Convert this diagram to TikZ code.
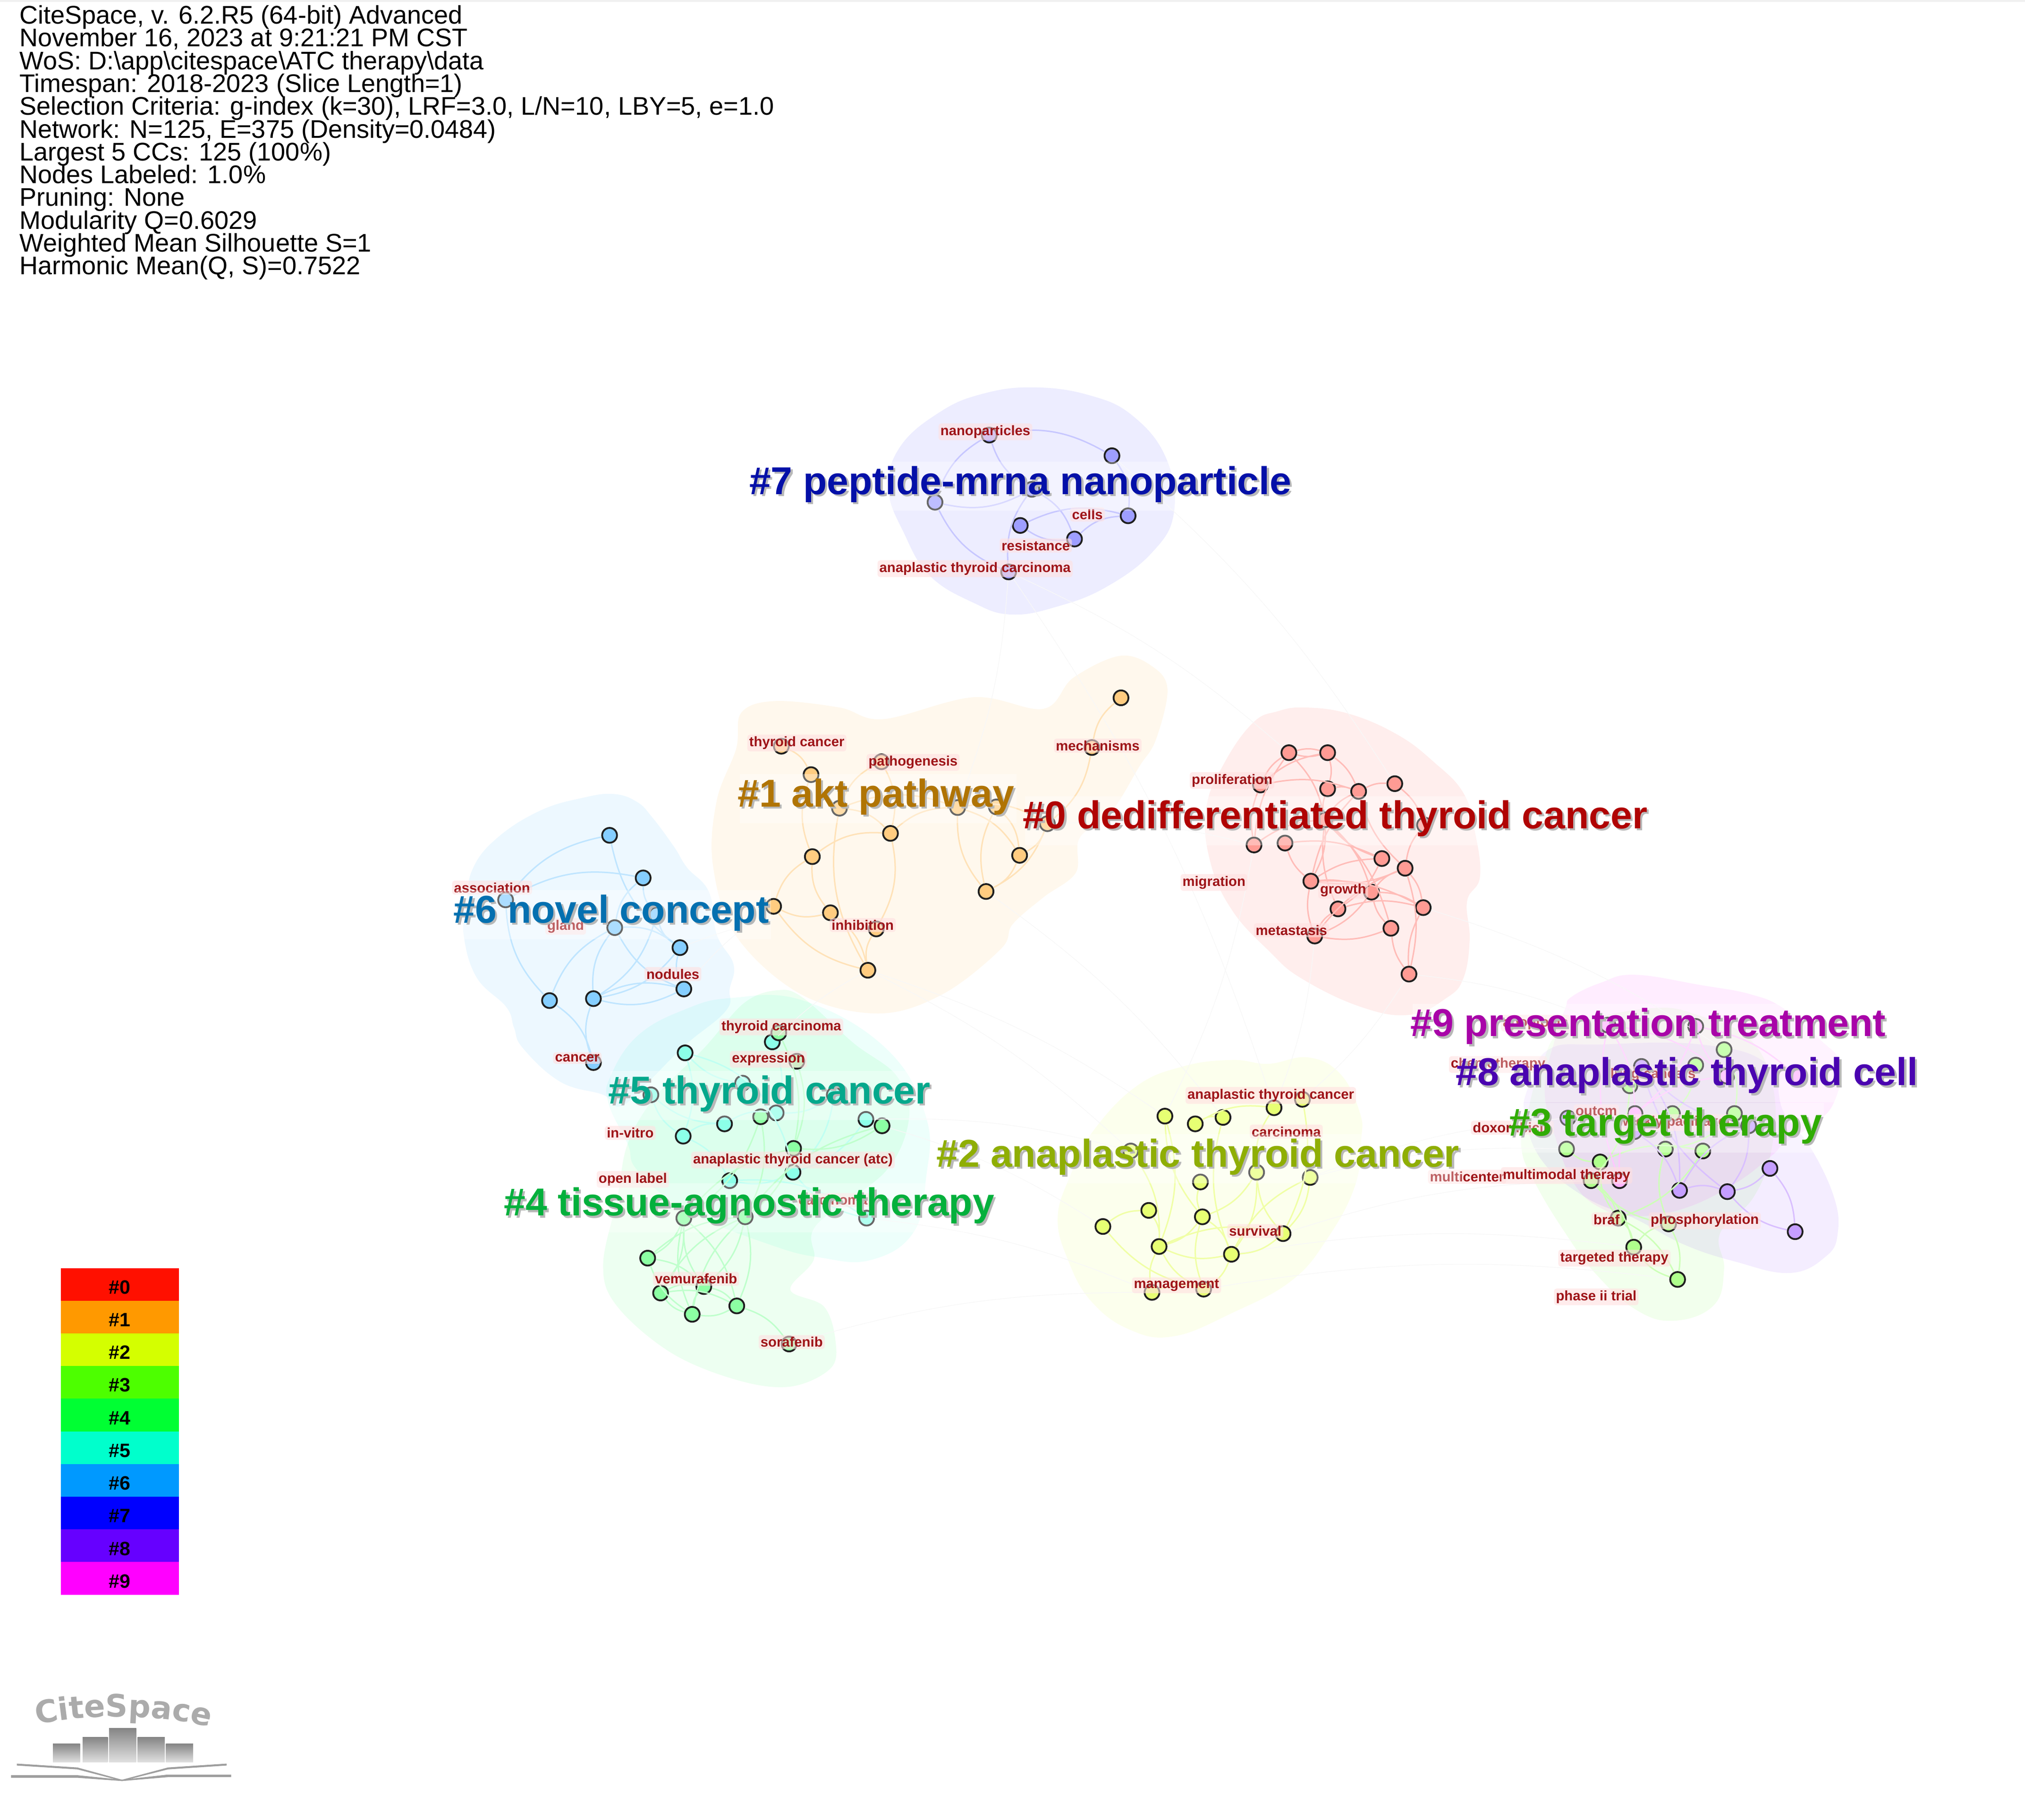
\documentclass[tikz,border=0pt]{standalone}
\usepackage{fontspec}
\setmainfont{Liberation Sans}
\newfontfamily\logofont{DejaVu Sans}
\usetikzlibrary{decorations.text}
\definecolor{c0}{HTML}{FF1000}
\definecolor{c1}{HTML}{FF9900}
\definecolor{c2}{HTML}{D4FF00}
\definecolor{c3}{HTML}{4DFF00}
\definecolor{c4}{HTML}{00FF33}
\definecolor{c5}{HTML}{00FFCC}
\definecolor{c6}{HTML}{0099FF}
\definecolor{c7}{HTML}{0000FF}
\definecolor{c8}{HTML}{6600FF}
\definecolor{c9}{HTML}{FF00FF}
\definecolor{kwred}{HTML}{9E1418}
\definecolor{t0}{HTML}{B00404}
\definecolor{t1}{HTML}{B07404}
\definecolor{t2}{HTML}{8FAE04}
\definecolor{t3}{HTML}{30AC04}
\definecolor{t4}{HTML}{04B03C}
\definecolor{t5}{HTML}{04A88C}
\definecolor{t6}{HTML}{0470B0}
\definecolor{t7}{HTML}{0410A8}
\definecolor{t8}{HTML}{4A04B0}
\definecolor{t9}{HTML}{A804A8}
\newcommand{\infofont}{\fontsize{19.75}{17.65}\selectfont\lineskiplimit=-20pt\relax}
\tikzset{
	hull/.style = {fill opacity = 0.07},
	dot/.style = {circle, draw = black!88, line width = 1.4pt, minimum size = 11.5pt, inner sep = 0pt},
	dot0/.style = {dot, fill = c0!42!white}, dot1/.style = {dot, fill = c1!50!white},
	dot2/.style = {dot, fill = c2!55!white}, dot3/.style = {dot, fill = c3!45!white},
	dot4/.style = {dot, fill = c4!45!white}, dot5/.style = {dot, fill = c5!45!white},
	dot6/.style = {dot, fill = c6!48!white}, dot7/.style = {dot, fill = c7!38!white},
	dot8/.style = {dot, fill = c8!38!white}, dot9/.style = {dot, fill = c9!30!white},
	faint/.style = {black!3, line width = 0.5pt},
	link0/.style = {c0!28!white, line width = 1.1pt}, link1/.style = {c1!28!white, line width = 1.1pt},
	link2/.style = {c2!35!white, line width = 1.1pt}, link3/.style = {c3!28!white, line width = 1.1pt},
	link4/.style = {c4!25!white, line width = 1.1pt}, link5/.style = {c5!25!white, line width = 1.1pt},
	link6/.style = {c6!25!white, line width = 1.1pt}, link7/.style = {c7!22!white, line width = 1.1pt},
	link8/.style = {c8!25!white, line width = 1.1pt}, link9/.style = {c9!22!white, line width = 1.1pt},
	keyword/.style = {font = \bfseries\fontsize{10.7}{12}\selectfont, text = kwred, fill = red!12!white, fill opacity = 0.6, text opacity = 1, inner sep = 1.5pt, rounded corners = 2pt},
	cluster/.style = {anchor = west, font = \bfseries\fontsize{30.1}{32}\selectfont, inner xsep = 0pt, inner ysep = 5pt},
	band/.style = {minimum width = 91.5pt, minimum height = 25.3pt, inner sep = 0pt, font = \bfseries\fontsize{15}{16}\selectfont, text = black, text height = 14.8pt, text depth = 0pt},
	tower/.style = {top color = black!48, bottom color = black!12, draw = none}
}
\newcommand{\clusterlabel}[4]{%
	\node [cluster, fill = white, fill opacity = 0.32, text = black!28, text opacity = 1] (#1s) at ([xshift = 1.6pt, yshift = -1.6pt] #2) {#4};
	\node [cluster] (#1) [text = #3] at (#2) {#4};
}
\begin{document}
\begin{tikzpicture}[x = 1pt, y = -1pt]
		\useasboundingbox (0, 0) rectangle (1568, 1409.7);
		\fill [black!6] (0, 0) rectangle (1568, 1.5);
		%%%%%%%%%%%%%
		\node [anchor = north west, align = left, inner sep = 0pt, font = \infofont] (info) at (15, 4) {CiteSpace, v. 6.2.R5 (64-bit) Advanced\\
			November 16, 2023 at 9:21:21 PM CST\\
			WoS: D:\textbackslash app\textbackslash citespace\textbackslash ATC therapy\textbackslash data\\
			Timespan: 2018-2023 (Slice Length=1)\\
			Selection Criteria: g-index (k=30), LRF=3.0, L/N=10, LBY=5, e=1.0\\
			Network: N=125, E=375 (Density=0.0484)\\
			Largest 5 CCs: 125 (100\%)\\
			Nodes Labeled: 1.0\%\\
			Pruning: None\\
			Modularity Q=0.6029\\
			Weighted Mean Silhouette S=1\\
			Harmonic Mean(Q, S)=0.7522};
		%%%%%%%%%%%%%
		\fill [hull, c7] plot [smooth cycle, tension = 0.7] coordinates {(800, 300) (843, 306) (877, 322) (903, 355) (909, 397) (892, 428) (856, 455) (818, 470) (783, 476) (754, 467) (720, 446) (700, 413) (688, 379) (697, 346) (728, 319) (761, 305)};
		\fill [hull, c1] plot [smooth cycle, tension = 0.6] coordinates {(867, 508) (892, 516) (904, 534) (895, 573) (882, 594) (861, 628) (836, 649) (833, 676) (808, 695) (784, 716) (775, 735) (730, 770) (680, 785) (620, 770) (570, 725) (552, 670) (555, 620) (570, 580) (574, 552) (600, 543) (650, 548) (684, 557) (754, 540) (808, 549) (831, 525)};
		\fill [hull, c0] plot [smooth cycle, tension = 0.7] coordinates {(1011, 548) (1045, 553) (1082, 569) (1110, 590) (1133, 614) (1142, 644) (1146, 679) (1136, 698) (1138, 728) (1133, 758) (1120, 773) (1092, 786) (1054, 780) (1008, 758) (983, 737) (954, 705) (937, 667) (934, 626) (948, 591) (970, 560) (989, 551)};
		\fill [hull, c6] plot [smooth cycle, tension = 0.7] coordinates {(475, 615) (493, 621) (505, 633) (522, 656) (532, 672) (549, 691) (555, 724) (568, 747) (565, 766) (562, 783) (530, 810) (500, 840) (480, 857) (467, 848) (434, 838) (405, 812) (398, 796) (392, 780) (369, 757) (359, 724) (361, 701) (366, 673) (385, 649) (418, 628) (451, 618)};
		\fill [hull, c5] plot [smooth cycle, tension = 0.7] coordinates {(566, 773) (622, 775) (686, 812) (717, 865) (717, 913) (707, 955) (674, 976) (635, 974) (596, 964) (532, 938) (494, 907) (486, 886) (471, 854) (473, 833) (494, 802) (530, 782)};
		\fill [hull, c4] plot [smooth cycle, tension = 0.6] coordinates {(602, 767) (622, 773) (661, 808) (694, 833) (704, 865) (686, 907) (632, 949) (630, 976) (612, 999) (638, 1012) (647, 1039) (643, 1060) (612, 1074) (571, 1069) (520, 1048) (478, 1012) (467, 980) (478, 928) (486, 886) (507, 850) (545, 812) (576, 777)};
		\fill [hull, c2] plot [smooth cycle, tension = 0.7] coordinates {(1013, 819) (1038, 832) (1053, 862) (1054, 883) (1049, 919) (1028, 959) (1000, 992) (954, 1017) (909, 1035) (875, 1030) (845, 1008) (827, 976) (819, 943) (829, 910) (845, 878) (879, 842) (916, 826) (954, 821) (982, 824)};
		\fill [hull, c3] plot [smooth cycle, tension = 0.7] coordinates {(1214, 796) (1278, 781) (1317, 787) (1355, 805) (1373, 843) (1372, 889) (1358, 927) (1332, 955) (1335, 983) (1327, 1011) (1296, 1023) (1266, 1014) (1235, 986) (1212, 955) (1189, 917) (1178, 889) (1183, 861) (1194, 824)};
		\fill [hull, c8] plot [smooth cycle, tension = 0.7] coordinates {(1199, 813) (1240, 809) (1317, 809) (1368, 824) (1381, 861) (1402, 889) (1420, 927) (1423, 955) (1414, 973) (1386, 986) (1343, 977) (1304, 964) (1266, 944) (1227, 927) (1194, 899) (1181, 865) (1183, 843)};
		\fill [hull, c9] plot [smooth cycle, tension = 0.7] coordinates {(1217, 772) (1240, 761) (1266, 755) (1317, 763) (1355, 770) (1381, 781) (1409, 805) (1425, 824) (1420, 854) (1404, 871) (1381, 886) (1372, 895) (1343, 917) (1304, 936) (1266, 942) (1240, 936) (1219, 917) (1204, 880) (1196, 843) (1204, 805) (1212, 781)};
		%%%%%%%%%%%%%
		\node [dot7] (u1) at (766, 337) {};
		\node [dot7] (u2) at (861, 353) {};
		\node [dot7] (u3) at (724, 389) {};
		\node [dot7] (u4) at (799, 379) {};
		\node [dot7] (u5) at (790, 407) {};
		\node [dot7] (u6) at (873.5, 399.5) {};
		\node [dot7] (u7) at (832, 417.5) {};
		\node [dot7] (u8) at (781, 443) {};
		%%%%%%%%%%%%%
		\node [dot1] (o1) at (868, 540.5) {};
		\node [dot1] (o2) at (845.5, 579) {};
		\node [dot1] (o3) at (605, 578) {};
		\node [dot1] (o4) at (628, 600) {};
		\node [dot1] (o5) at (682.5, 590) {};
		\node [dot1] (o6) at (650, 626) {};
		\node [dot1] (o7) at (741.5, 625.5) {};
		\node [dot1] (o8) at (771.5, 625) {};
		\node [dot1] (o9) at (811, 638) {};
		\node [dot1] (o10) at (689.5, 645.5) {};
		\node [dot1] (o11) at (629, 663.5) {};
		\node [dot1] (o12) at (789.5, 662.5) {};
		\node [dot1] (o13) at (763.5, 690.5) {};
		\node [dot1] (o14) at (599, 702) {};
		\node [dot1] (o15) at (643, 707) {};
		\node [dot1] (o16) at (678.5, 719.5) {};
		\node [dot1] (o17) at (672, 751.5) {};
		%%%%%%%%%%%%%
		\node [dot0] (r1) at (998, 583) {};
		\node [dot0] (r2) at (1028, 583) {};
		\node [dot0] (r3) at (976, 608) {};
		\node [dot0] (r4) at (1028, 611) {};
		\node [dot0] (r5) at (1052, 613) {};
		\node [dot0] (r6) at (1080, 607) {};
		\node [dot0] (r7) at (971, 654.5) {};
		\node [dot0] (r8) at (995, 653) {};
		\node [dot0] (r9) at (1026, 635) {};
		\node [dot0] (r10) at (1103, 639) {};
		\node [dot0] (r11) at (1070, 665) {};
		\node [dot0] (r12) at (1088, 672.5) {};
		\node [dot0] (r13) at (1015, 682.5) {};
		\node [dot0] (r14) at (1062, 691) {};
		\node [dot0] (r15) at (1036, 704) {};
		\node [dot0] (r16) at (1102, 703) {};
		\node [dot0] (r17) at (1077, 719) {};
		\node [dot0] (r18) at (1018, 725) {};
		\node [dot0] (r19) at (1091, 754.5) {};
		%%%%%%%%%%%%%
		\node [dot6] (b1) at (472, 647) {};
		\node [dot6] (b2) at (498, 680) {};
		\node [dot6] (b3) at (391.5, 697) {};
		\node [dot6] (b4) at (476, 718.5) {};
		\node [dot6] (b5) at (508.5, 708.5) {};
		\node [dot6] (b6) at (526.5, 734) {};
		\node [dot6] (b7) at (529.5, 766) {};
		\node [dot6] (b8) at (425.5, 775) {};
		\node [dot6] (b9) at (459.5, 773.5) {};
		\node [dot6] (b10) at (459.5, 823) {};
		%%%%%%%%%%%%%
		\node [dot5] (t1) at (598, 807) {};
		\node [dot5] (t2) at (530.5, 815.5) {};
		\node [dot5] (t3) at (575, 839) {};
		\node [dot5] (t4) at (504, 848) {};
		\node [dot5] (t5) at (646, 848) {};
		\node [dot5] (t6) at (601, 862) {};
		\node [dot5] (t7) at (561, 870.5) {};
		\node [dot5] (t8) at (529, 880) {};
		\node [dot5] (t9) at (670.5, 867) {};
		\node [dot5] (t10) at (614, 908) {};
		\node [dot5] (t11) at (565, 914.5) {};
		\node [dot5] (t12) at (671, 943.5) {};
		%%%%%%%%%%%%%
		\node [dot4] (f1) at (603, 800) {};
		\node [dot4] (f2) at (617, 822) {};
		\node [dot4] (f3) at (589, 865) {};
		\node [dot4] (f4) at (683, 872) {};
		\node [dot4] (f5) at (614.5, 889.5) {};
		\node [dot4] (f6) at (529.5, 943.5) {};
		\node [dot4] (f7) at (577, 942.5) {};
		\node [dot4] (f8) at (501.5, 974.5) {};
		\node [dot4] (f9) at (545, 996.5) {};
		\node [dot4] (f10) at (511.5, 1001.5) {};
		\node [dot4] (f11) at (536, 1018) {};
		\node [dot4] (f12) at (570.5, 1011.5) {};
		\node [dot4] (f13) at (611, 1041) {};
		%%%%%%%%%%%%%
		\node [dot2] (y1) at (902, 864.5) {};
		\node [dot2] (y2) at (925.5, 870.5) {};
		\node [dot2] (y3) at (947, 865.5) {};
		\node [dot2] (y4) at (986.5, 858) {};
		\node [dot2] (y5) at (1008.5, 851.5) {};
		\node [dot2] (y6) at (875.5, 891.5) {};
		\node [dot2] (y7) at (973, 908) {};
		\node [dot2] (y8) at (1014.5, 912) {};
		\node [dot2] (y9) at (929.5, 915.5) {};
		\node [dot2] (y10) at (889.5, 937.5) {};
		\node [dot2] (y11) at (931, 942.5) {};
		\node [dot2] (y12) at (854, 950) {};
		\node [dot2] (y13) at (993.5, 955.5) {};
		\node [dot2] (y14) at (897.5, 965.5) {};
		\node [dot2] (y15) at (953.5, 971.5) {};
		\node [dot2] (y16) at (892, 1001) {};
		\node [dot2] (y17) at (932, 998.5) {};
		%%%%%%%%%%%%%
		\node [dot3] (g1) at (1335, 813) {};
		\node [dot3] (g2) at (1313, 825) {};
		\node [dot3] (g3) at (1262, 841) {};
		\node [dot3] (g4) at (1295, 862.5) {};
		\node [dot3] (g5) at (1343, 862.5) {};
		\node [dot3] (g6) at (1213, 890) {};
		\node [dot3] (g7) at (1239, 900) {};
		\node [dot3] (g8) at (1289.5, 890) {};
		\node [dot3] (g9) at (1318.5, 891.5) {};
		\node [dot3] (g10) at (1232, 914.5) {};
		\node [dot3] (g11) at (1253, 943.5) {};
		\node [dot3] (g12) at (1292, 948) {};
		\node [dot3] (g13) at (1265, 966) {};
		\node [dot3] (g14) at (1299, 991) {};
		%%%%%%%%%%%%%
		\node [dot8] (p1) at (1370.5, 905) {};
		\node [dot8] (p2) at (1300.5, 922) {};
		\node [dot8] (p3) at (1337.5, 923) {};
		\node [dot8] (p4) at (1390, 954) {};
		\node [dot8] (p5) at (1214, 866) {};
		\node [dot8] (p6) at (1354, 872) {};
		\node [dot8] (p7) at (1265.5, 876.5) {};
		\node [dot8] (p8) at (1271, 826) {};
		%%%%%%%%%%%%%
		\node [dot9] (m1) at (1245, 794) {};
		\node [dot9] (m2) at (1313, 795) {};
		\node [dot9] (m3) at (1337, 833.5) {};
		\node [dot9] (m4) at (1391, 833.5) {};
		\node [dot9] (m5) at (1266, 862.5) {};
		\node [dot9] (m6) at (1254, 914.5) {};
		%%%%%%%%%%%%%
		\draw [faint, bend left = 8] (u8) to (o7) (u8) to (r1) (u2) to (r6) (u8) to (y4) (o9) to (r7) (o13) to (y3) (o17) to (y1) (o17) to (y6) (r19) to (y5) (r18) to (y4) (r7) to (y1) (r19) to (m1) (r16) to (g1) (y8) to (g6) (y8) to (p5) (y13) to (g10) (y15) to (g13) (y17) to (g14) (f4) to (y12) (t12) to (y16) (t9) to (y6) (f13) to (y16) (b7) to (o14) (b6) to (o15) (t1) to (o17);
		%%%%%%%%%%%%%
		\draw [link7, bend left = 20] (u1) to (u2) (u4) to (u1) (u2) to (u6) (u3) to (u1) (u4) to (u7) (u5) to (u6) (u7) to (u6);
		\draw [link7, bend right = 20] (u3) to (u8) (u3) to (u4) (u4) to (u8) (u5) to (u7);
		%%%%%%%%%%%%%
		\draw [link1, bend left = 20] (o2) to (o1) (o3) to (o4) (o5) to (o10) (o6) to (o10) (o10) to (o7) (o7) to (o12) (o8) to (o12) (o9) to (o12) (o7) to (o9) (o11) to (o10) (o14) to (o11) (o15) to (o17) (o6) to (o7) (o10) to (o16);
		\draw [link1, bend right = 20] (o13) to (o9) (o13) to (o12) (o9) to (o2) (o5) to (o6) (o6) to (o17) (o4) to (o11) (o11) to (o15) (o14) to (o15) (o14) to (o17) (o7) to (o13) (o8) to (o13) (o16) to (o17);
		%%%%%%%%%%%%%
		\draw [link0, bend left = 15] (r1) to (r2) (r3) to (r1) (r2) to (r5) (r2) to (r4) (r3) to (r5) (r4) to (r5) (r5) to (r6) (r6) to (r10) (r1) to (r9) (r7) to (r9) (r8) to (r11) (r9) to (r13) (r9) to (r14) (r9) to (r17) (r11) to (r15) (r12) to (r13) (r13) to (r14) (r13) to (r16) (r14) to (r16) (r12) to (r16) (r15) to (r16) (r17) to (r18) (r18) to (r12) (r12) to (r19);
		\draw [link0, bend right = 15] (r1) to (r2) (r1) to (r7) (r2) to (r3) (r3) to (r7) (r4) to (r9) (r5) to (r9) (r5) to (r12) (r8) to (r13) (r9) to (r11) (r9) to (r15) (r10) to (r12) (r11) to (r13) (r12) to (r14) (r13) to (r18) (r14) to (r17) (r15) to (r18) (r16) to (r19) (r17) to (r19) (r5) to (r13) (r18) to (r14);
		%%%%%%%%%%%%%
		\draw [link6, bend left = 20] (b3) to (b1) (b3) to (b2) (b4) to (b6) (b5) to (b9) (b6) to (b9) (b9) to (b7) (b8) to (b4) (b8) to (b10) (b7) to (b6);
		\draw [link6, bend right = 20] (b1) to (b6) (b3) to (b8) (b2) to (b4) (b2) to (b5) (b4) to (b9) (b5) to (b6) (b9) to (b7) (b9) to (b10) (b4) to (b7);
		%%%%%%%%%%%%%
		\draw [link5, bend left = 18] (t2) to (t8) (t2) to (t6) (t8) to (t7) (t7) to (t6) (t8) to (t11) (t3) to (t10) (t5) to (t10) (t10) to (t11) (t9) to (t10) (t11) to (t12) (t1) to (t6);
		\draw [link5, bend right = 18] (t2) to (t3) (t4) to (t8) (t4) to (t7) (t6) to (t5) (t10) to (t12);
		\draw [link4, bend left = 18] (f1) to (f5) (f2) to (f5) (f3) to (f6) (f3) to (f7) (f4) to (f5) (f5) to (f7) (f6) to (f8) (f6) to (f10) (f6) to (f12) (f7) to (f9) (f7) to (f12) (f8) to (f9) (f10) to (f9) (f10) to (f12) (f9) to (f12) (f12) to (f13);
		\draw [link4, bend right = 18] (f4) to (f7) (f5) to (f6) (f6) to (f9) (f6) to (f11) (f7) to (f8) (f7) to (f10) (f7) to (f11) (f8) to (f11) (f10) to (f11) (f9) to (f11) (f11) to (f12);
		%%%%%%%%%%%%%
		\draw [link2, bend left = 18] (y2) to (y3) (y2) to (y4) (y1) to (y14) (y6) to (y14) (y10) to (y14) (y12) to (y10) (y11) to (y14) (y11) to (y15) (y14) to (y13) (y8) to (y13) (y5) to (y13) (y7) to (y15) (y16) to (y17) (y15) to (y17);
		\draw [link2, bend right = 18] (y3) to (y15) (y1) to (y11) (y12) to (y17) (y9) to (y11) (y7) to (y13) (y8) to (y15) (y14) to (y15) (y14) to (y16) (y14) to (y17) (y11) to (y17) (y15) to (y13) (y4) to (y7) (y11) to (y7);
		%%%%%%%%%%%%%
		\draw [link3, bend left = 18] (g7) to (g9) (g10) to (g11) (g10) to (g13) (g3) to (g10) (g2) to (g4) (g9) to (g11) (g11) to (g13) (g11) to (g14) (g12) to (g14) (g5) to (g8) (g1) to (g5);
		\draw [link3, bend right = 18] (g6) to (g7) (g4) to (g8) (g8) to (g12) (g12) to (g13) (g13) to (g14) (g10) to (g12) (g7) to (g11);
		\draw [link8, bend left = 18] (p1) to (p4) (p8) to (p2) (p6) to (p3) (p7) to (p2) (p5) to (p7) (p2) to (p3);
		\draw [link8, bend right = 18] (p3) to (p1) (p3) to (p4) (p8) to (p3) (p6) to (p2) (p8) to (p6);
		\draw [link9, bend left = 15] (m1) to (m5) (m2) to (m5) (m1) to (m3) (m2) to (m4) (m5) to (m3);
		\draw [link9, bend right = 15] (m2) to (m3) (m5) to (m6) (m1) to (m6);
		%%%%%%%%%%%%%
		\node [keyword] (kNano) at (763, 334.5) {nanoparticles};
		\node [keyword] (kCells) at (842, 398.5) {cells};
		\node [keyword] (kRes) at (802, 422.5) {resistance};
		\node [keyword] (kAtcar) at (755, 440.5) {anaplastic thyroid carcinoma};
		\node [keyword] (kThyc) at (617, 575.5) {thyroid cancer};
		\node [keyword] (kPath) at (707, 590.5) {pathogenesis};
		\node [keyword] (kMech) at (850, 577.5) {mechanisms};
		\node [keyword] (kInh) at (668, 716.5) {inhibition};
		\node [keyword] (kProl) at (954, 604.5) {proliferation};
		\node [keyword] (kMig) at (940, 683.5) {migration};
		\node [keyword] (kGrow) at (1040, 689.5) {growth};
		\node [keyword] (kMeta) at (1000, 720.5) {metastasis};
		\node [keyword] (kAssoc) at (381, 687.5) {association};
		\node [keyword] (kGland) at (438, 717.5) {gland};
		\node [keyword] (kNod) at (521, 754.5) {nodules};
		\node [keyword] (kCan) at (447, 819.5) {cancer};
		\node [keyword] (kThca) at (605, 795.5) {thyroid carcinoma};
		\node [keyword] (kExpr) at (595, 820.5) {expression};
		\node [keyword] (kVitro) at (488, 877.5) {in-vitro};
		\node [keyword] (kAtcb) at (614, 898.5) {anaplastic thyroid cancer (atc)};
		\node [keyword] (kOpen) at (490, 913.5) {open label};
		\node [keyword] (kCarb) at (645, 929.5) {carcinoma};
		\node [keyword] (kVem) at (539, 990.5) {vemurafenib};
		\node [keyword] (kSor) at (613, 1039.5) {sorafenib};
		\node [keyword] (kAtc) at (984, 848.5) {anaplastic thyroid cancer};
		\node [keyword] (kCarc) at (996, 876.5) {carcinoma};
		\node [keyword] (kSurv) at (972, 953.5) {survival};
		\node [keyword] (kMan) at (911, 995.5) {management};
		\node [keyword] (kApop) at (1189, 792.5) {apoptosis};
		\node [keyword] (kChem) at (1160, 824.5) {chemotherapy};
		\node [keyword] (kLung) at (1280, 832.5) {lung cancers};
		\node [keyword] (kOut) at (1236, 860.5) {outcm};
		\node [keyword] (kDox) at (1171, 873.5) {doxorubicin};
		\node [keyword] (kPac) at (1296, 869.5) {weekly paclitaxel};
		\node [keyword] (kMulc) at (1136, 911.5) {multicenter};
		\node [keyword] (kMulm) at (1213, 910.5) {multimodal therapy};
		\node [keyword] (kBraf) at (1244, 944.5) {braf};
		\node [keyword] (kPhos) at (1320, 945.5) {phosphorylation};
		\node [keyword] (kTarg) at (1250, 974.5) {targeted therapy};
		\node [keyword] (kPhase) at (1236, 1004.5) {phase ii trial};
		%%%%%%%%%%%%%
		\clusterlabel{cl7}{580, 375}{t7}{\#7 peptide-mrna nanoparticle}
		\clusterlabel{cl1}{571, 617}{t1}{\#1 akt pathway}
		\clusterlabel{cl0}{792, 634}{t0}{\#0 dedifferentiated thyroid cancer}
		\clusterlabel{cl6}{351, 707}{t6}{\#6 novel concept}
		\clusterlabel{cl9}{1092, 795}{t9}{\#9 presentation treatment}
		\clusterlabel{cl8}{1127, 833}{t8}{\#8 anaplastic thyroid cell}
		\clusterlabel{cl5}{471, 847}{t5}{\#5 thyroid cancer}
		\clusterlabel{cl3}{1168, 872}{t3}{\#3 target therapy}
		\clusterlabel{cl2}{725, 896}{t2}{\#2 anaplastic thyroid cancer}
		\clusterlabel{cl4}{390, 934}{t4}{\#4 tissue-agnostic therapy}
		%%%%%%%%%%%%%
		\node [band, fill = c0] (k0) at (92.75, 994.8) {\#0};
		\node [band, fill = c1] (k1) at (92.75, 1020.1) {\#1};
		\node [band, fill = c2] (k2) at (92.75, 1045.4) {\#2};
		\node [band, fill = c3] (k3) at (92.75, 1070.7) {\#3};
		\node [band, fill = c4] (k4) at (92.75, 1096) {\#4};
		\node [band, fill = c5] (k5) at (92.75, 1121.3) {\#5};
		\node [band, fill = c6] (k6) at (92.75, 1146.6) {\#6};
		\node [band, fill = c7] (k7) at (92.75, 1171.9) {\#7};
		\node [band, fill = c8] (k8) at (92.75, 1197.2) {\#8};
		\node [band, fill = c9] (k9) at (92.75, 1222.5) {\#9};
		%%%%%%%%%%%%%
		\path [decorate, decoration = {text along path, text align = center, text = {|\logofont\bfseries\fontsize{24}{26}\selectfont\color{black!33}|CiteSpace}}] (24, 1337) .. controls (65, 1327) and (125, 1327) .. (167, 1339);
		\shade [tower] (41, 1350.5) rectangle (62, 1365);
		\shade [tower] (64, 1345.5) rectangle (83.5, 1365);
		\shade [tower] (84.5, 1338.5) rectangle (105.5, 1365);
		\shade [tower] (106.5, 1345.5) rectangle (127.5, 1365);
		\shade [tower] (128.5, 1350.5) rectangle (149.5, 1365);
		\fill [black!38] (13, 1366) -- (60, 1369) -- (94.5, 1378.5) -- (130, 1369) -- (175.5, 1366) -- (175.5, 1367.5) -- (130, 1370.5) -- (94.5, 1379.5) -- (60, 1370.5) -- (13, 1367.5) -- cycle;
		\fill [black!38] (8.5, 1375) -- (60, 1375) -- (94.5, 1378.5) -- (130, 1374.5) -- (179, 1374.5) -- (179, 1376.5) -- (130, 1376.5) -- (94.5, 1379.5) -- (60, 1377) -- (8.5, 1377) -- cycle;
		%%%%%%%%%%%%%
	\end{tikzpicture}
\end{document}
